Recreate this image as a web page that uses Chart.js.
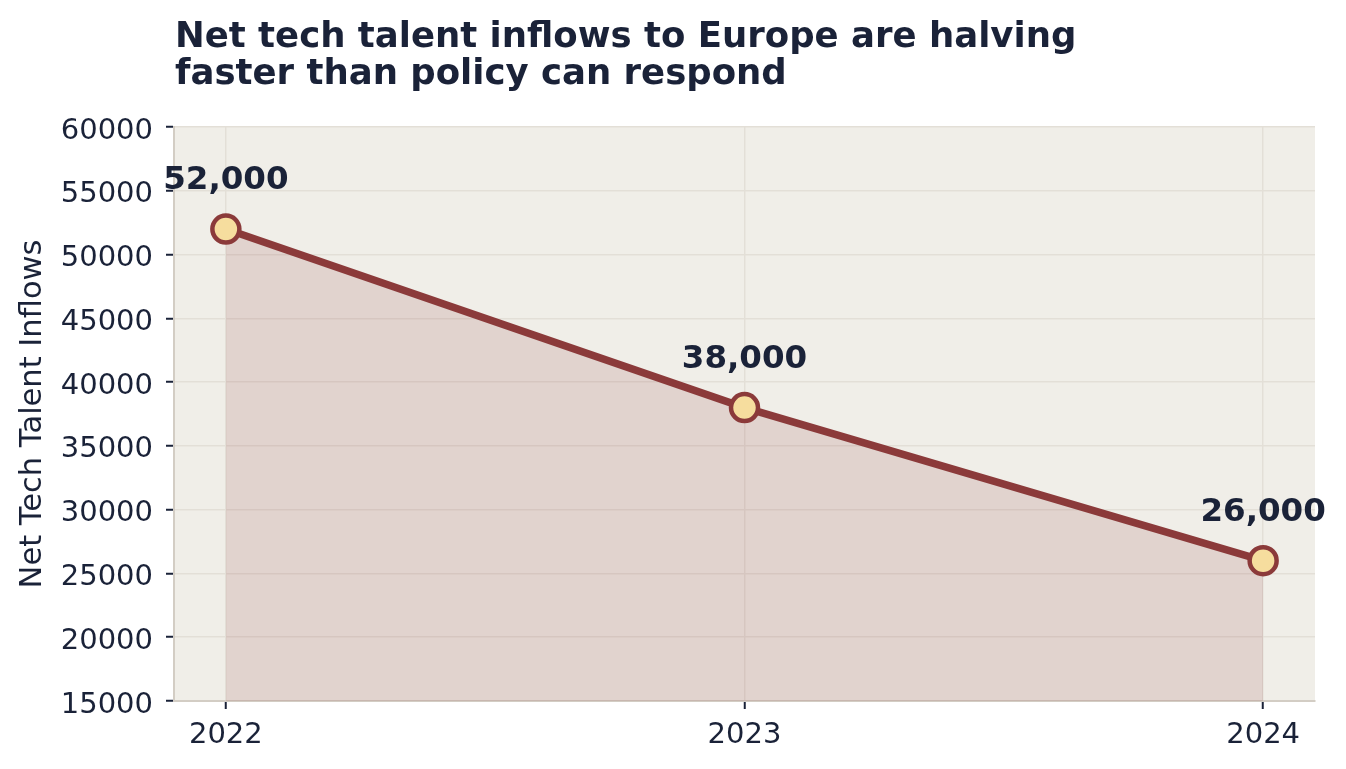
<!DOCTYPE html>
<html>
<head>
<meta charset="utf-8">
<script src="https://cdn.jsdelivr.net/npm/chart.js@4.4.1/dist/chart.umd.min.js"></script>
<style>
  html, body { margin: 0; padding: 0; background: #ffffff; }
  #wrap { width: 1346px; height: 769px; }
</style>
</head>
<body>
<div id="wrap"><canvas id="c" width="1346" height="769"></canvas></div>
<script>
const years = [2022, 2023, 2024];
const inflows = [52000, 38000, 26000];
const valueLabels = ['52,000', '38,000', '26,000'];
const titleLines = ['Net tech talent inflows to Europe are halving', 'faster than policy can respond'];
const yAxisTitle = 'Net Tech Talent Inflows';

const NAVY = '#1a2238';
const LINE = '#8b3a3a';
const FONT = "'DejaVu Sans', sans-serif";

const bgPlugin = {
  id: 'bg',
  beforeDraw(chart) {
    const { ctx, chartArea: a } = chart;
    ctx.save();
    ctx.fillStyle = '#ffffff';
    ctx.fillRect(0, 0, chart.width, chart.height);
    ctx.fillStyle = '#f0eee8';
    ctx.fillRect(a.left, a.top, a.right - a.left, a.bottom - a.top);
    ctx.restore();
  }
};

const titlePlugin = {
  id: 'customTitle',
  afterDraw(chart) {
    const ctx = chart.ctx;
    ctx.save();
    ctx.fillStyle = NAVY;
    ctx.font = "bold 35.5px " + FONT;
    ctx.textAlign = 'left';
    ctx.textBaseline = 'alphabetic';
    ctx.fillText(titleLines[0], 175, 47);
    ctx.fillText(titleLines[1], 175, 84);
    ctx.restore();
  }
};

const labelPlugin = {
  id: 'valueLabels',
  afterDatasetsDraw(chart) {
    const ctx = chart.ctx;
    const meta = chart.getDatasetMeta(0);
    ctx.save();
    ctx.fillStyle = NAVY;
    ctx.font = "bold 32.5px " + FONT;
    ctx.textAlign = 'center';
    ctx.textBaseline = 'alphabetic';
    meta.data.forEach((pt, i) => {
      ctx.fillText(valueLabels[i], pt.x, pt.y - 40);
    });
    ctx.restore();
  }
};

new Chart(document.getElementById('c'), {
  type: 'line',
  data: {
    datasets: [{
      data: years.map((y, i) => ({ x: y, y: inflows[i] })),
      borderColor: LINE,
      borderWidth: 7.5,
      backgroundColor: 'rgba(139,58,58,0.15)',
      fill: 'start',
      tension: 0,
      pointRadius: 13.5,
      pointHoverRadius: 13.5,
      pointBackgroundColor: '#f6dd9e',
      pointBorderColor: LINE,
      pointBorderWidth: 4.5,
      clip: false
    }]
  },
  options: {
    responsive: false,
    animation: false,
    devicePixelRatio: 1,
    layout: { padding: { top: 127, right: 31, left: 0, bottom: 0 } },
    plugins: { legend: { display: false }, tooltip: { enabled: false }, title: { display: false } },
    scales: {
      x: {
        type: 'linear',
        min: 2021.9,
        max: 2024.1,
        afterBuildTicks: s => { s.ticks = years.map(v => ({ value: v })); },
        afterFit: s => { s.height = 68; },
        ticks: {
          callback: v => String(v),
          color: NAVY,
          font: { family: FONT, size: 29 },
          padding: 9,
          maxRotation: 0,
          autoSkip: false
        },
        grid: { color: '#e3dfd7', lineWidth: 1.5, tickColor: NAVY, tickLength: 8, tickWidth: 2 },
        border: { color: '#d3cdc4', width: 2 }
      },
      y: {
        min: 15000,
        max: 60000,
        afterFit: s => { s.width = 174; },
        ticks: {
          stepSize: 5000,
          callback: v => String(v),
          color: NAVY,
          font: { family: FONT, size: 29 },
          padding: 13,
          labelOffset: 4
        },
        title: {
          display: true,
          text: yAxisTitle,
          color: NAVY,
          font: { family: FONT, size: 30.5 },
          padding: { top: 15, bottom: 0 }
        },
        grid: { color: '#e3dfd7', lineWidth: 1.5, tickColor: NAVY, tickLength: 8, tickWidth: 2 },
        border: { color: '#d3cdc4', width: 2 }
      }
    }
  },
  plugins: [bgPlugin, titlePlugin, labelPlugin]
});
</script>
</body>
</html>
